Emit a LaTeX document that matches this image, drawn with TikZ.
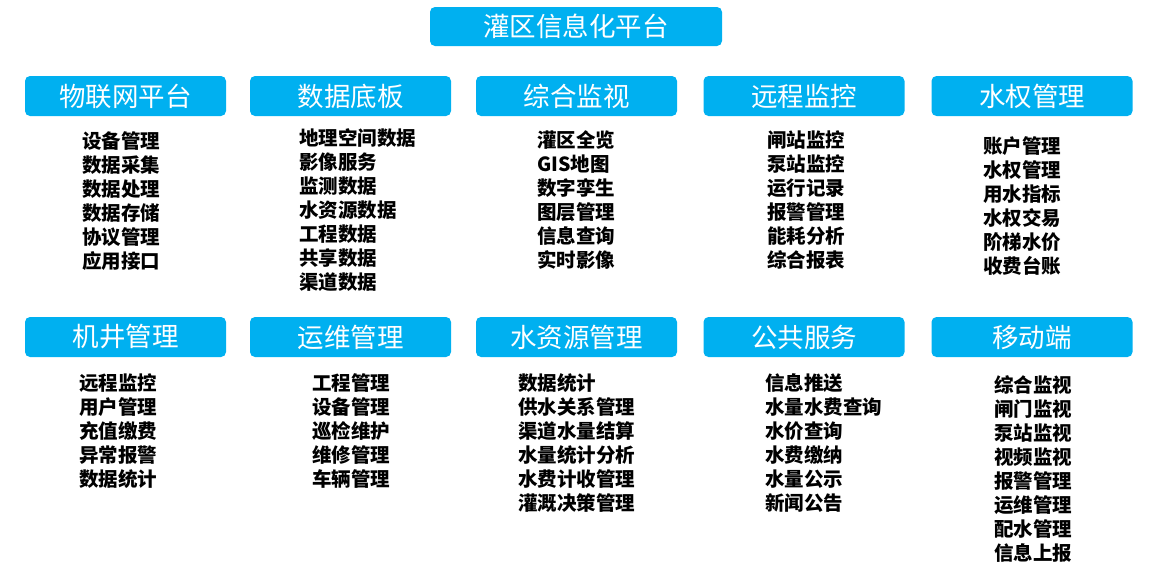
\documentclass[tikz,border=0pt]{standalone}
\usepackage{fontspec}
\newfontfamily\cjk{Noto Sans CJK SC}
\definecolor{hdrblue}{RGB}{0,176,240}
\tikzset{
  hdr/.style={fill=hdrblue, rounded corners=5pt, minimum width=201pt, minimum height=40pt,
    inner sep=0pt, text=white, font=\cjk\fontsize{26.5}{30}\selectfont},
  itm/.style={anchor=west, inner sep=0pt, text=black, font=\cjk\bfseries\fontsize{19.5}{24}\selectfont}
}
\newcommand\itemcol[4]{%
  \foreach \t [count=\i from 0] in {#4} \node[itm] (#1-\i) at (#2, #3+24*\i) {\t};%
}
\begin{document}
\begin{tikzpicture}[x=1pt,y=-1pt]
\useasboundingbox (0,0) rectangle (1152,576);
\node[hdr, minimum width=292pt, minimum height=39pt] (title) at (576,26.5) {灌区信息化平台};
% row 1
\node[hdr] (h1) at (125.5,96) {物联网平台};
\node[hdr] (h2) at (350.5,96) {数据底板};
\node[hdr] (h3) at (576.5,96) {综合监视};
\node[hdr] (h4) at (804,96) {远程监控};
\node[hdr] (h5) at (1032,96) {水权管理};
\itemcol{a}{82}{141.5}{设备管理,数据采集,数据处理,数据存储,协议管理,应用接口}
\itemcol{b}{299}{138}{地理空间数据,影像服务,监测数据,水资源数据,工程数据,共享数据,渠道数据}
\itemcol{c}{537}{140}{灌区全览,GIS地图,数字孪生,图层管理,信息查询,实时影像}
\itemcol{d}{767}{140}{闸站监控,泵站监控,运行记录,报警管理,能耗分析,综合报表}
\itemcol{e}{983}{146}{账户管理,水权管理,用水指标,水权交易,阶梯水价,收费台账}
% row 2
\node[hdr] (h6) at (125.5,337) {机井管理};
\node[hdr] (h7) at (350.5,337) {运维管理};
\node[hdr] (h8) at (576.5,337) {水资源管理};
\node[hdr] (h9) at (804,337) {公共服务};
\node[hdr] (h10) at (1032,337) {移动端};
\itemcol{f}{79}{383}{远程监控,用户管理,充值缴费,异常报警,数据统计}
\itemcol{g}{312}{383}{工程管理,设备管理,巡检维护,维修管理,车辆管理}
\itemcol{h}{518}{383}{数据统计,供水关系管理,渠道水量结算,水量统计分析,水费计收管理,灌溉决策管理}
\itemcol{i}{765}{383}{信息推送,水量水费查询,水价查询,水费缴纳,水量公示,新闻公告}
\itemcol{j}{994}{385}{综合监视,闸门监视,泵站监视,视频监视,报警管理,运维管理,配水管理,信息上报}
\end{tikzpicture}
\end{document}
